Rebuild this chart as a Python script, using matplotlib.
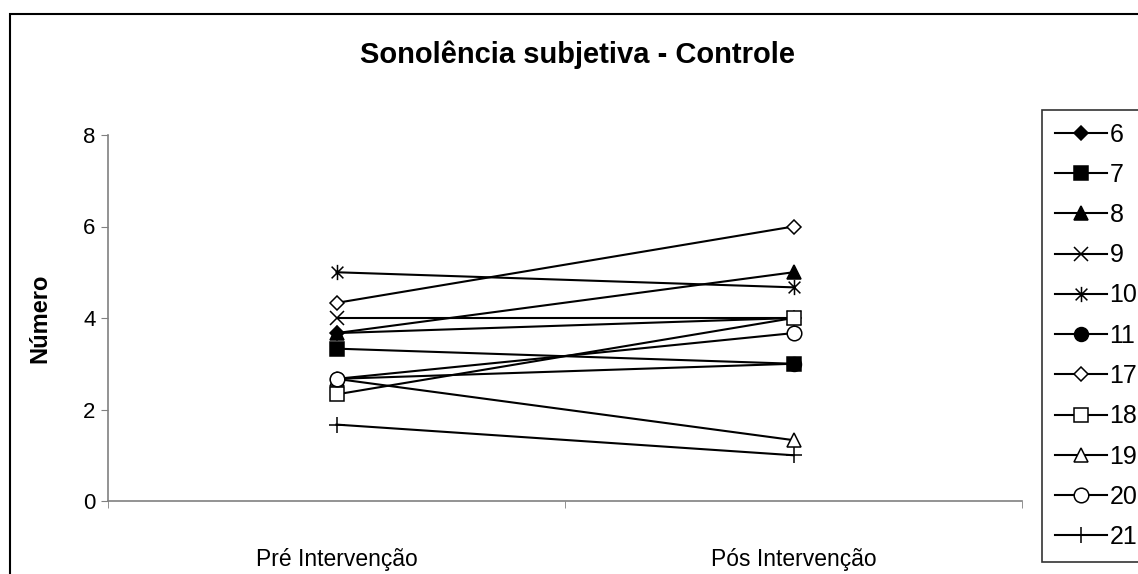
import matplotlib
matplotlib.use('Agg')
import matplotlib.pyplot as plt
from matplotlib.path import Path
from matplotlib.patches import Rectangle

# dados
categorias = ['Pré Intervenção', 'Pós Intervenção']
sujeitos = ['6', '7', '8', '9', '10', '11', '17', '18', '19', '20', '21']
pre = [3.67, 3.33, 3.67, 4.0, 5.0, 2.67, 4.33, 2.33, 2.67, 2.67, 1.67]
pos = [4.0, 3.0, 5.0, 4.0, 4.67, 3.0, 6.0, 4.0, 1.33, 3.67, 1.0]

# asterisco estilo Excel (X + traço vertical)
asterisco = Path([(-1, -1), (1, 1), (-1, 1), (1, -1), (0, -1.3), (0, 1.3)],
                 [Path.MOVETO, Path.LINETO, Path.MOVETO, Path.LINETO, Path.MOVETO, Path.LINETO])

estilos = [
    ('D', 'black', 7.5),
    ('s', 'black', 10),
    ('^', 'black', 10),
    ('x', 'black', 10),
    (asterisco, 'black', 11),
    ('o', 'black', 10),
    ('D', 'white', 7.5),
    ('s', 'white', 10),
    ('^', 'white', 10),
    ('o', 'white', 10.5),
    ('+', 'black', 12),
]

plt.rcParams['font.family'] = ['Liberation Sans', 'DejaVu Sans']

fig = plt.figure(figsize=(11.38, 5.74), dpi=100)
ax = fig.add_axes([108 / 1138, 1 - 501 / 574, 914 / 1138, 366 / 574])

x = list(range(len(categorias)))
for i, nome in enumerate(sujeitos):
    m, fc, ms = estilos[i]
    ax.plot(x, [pre[i], pos[i]], color='black', lw=1.5, marker=m, ms=ms,
            markerfacecolor=fc, markeredgecolor='black', markeredgewidth=1.1,
            label=nome, clip_on=False)

ax.set_xlim(-0.5, 1.5)
ax.set_ylim(0, 8)
ax.set_yticks([0, 2, 4, 6, 8])
ax.set_xticks(x)
ax.set_xticklabels(categorias, fontsize=16.5)
ax.set_xticks([-0.5, 0.5, 1.5], minor=True)
ax.tick_params(axis='x', which='major', length=0, pad=34)
ax.tick_params(axis='x', which='minor', length=5, color='#808080', direction='out')
ax.tick_params(axis='y', length=5, color='#808080', direction='out', labelsize=16, pad=4)

for s in ['top', 'right']:
    ax.spines[s].set_visible(False)
for s in ['left', 'bottom']:
    ax.spines[s].set_color('#808080')
    ax.spines[s].set_linewidth(1.2)

ax.set_ylabel('Número', fontsize=17, fontweight='bold')
ax.yaxis.set_label_coords(-0.062, 0.5)

fig.text(578 / 1138, 1 - 55 / 574, 'Sonolência subjetiva - Controle',
         fontsize=21, fontweight='bold', ha='center', va='center')

leg = fig.legend(loc='upper left', bbox_to_anchor=(1042 / 1138, 1 - 110 / 574),
                 fontsize=18, frameon=True, fancybox=False, borderaxespad=0,
                 handlelength=2.1, handletextpad=0.1, labelspacing=0.65,
                 borderpad=0.5, numpoints=1)
leg.get_frame().set_edgecolor('black')
leg.get_frame().set_linewidth(1.2)

# borda da área do gráfico
fig.add_artist(Rectangle((10 / 1138, -0.1), 1.2, 1 - 14 / 574 + 0.1,
                         transform=fig.transFigure, fill=False, lw=1.5,
                         ec='black', clip_on=False))

fig.savefig('out.png', dpi=100)
